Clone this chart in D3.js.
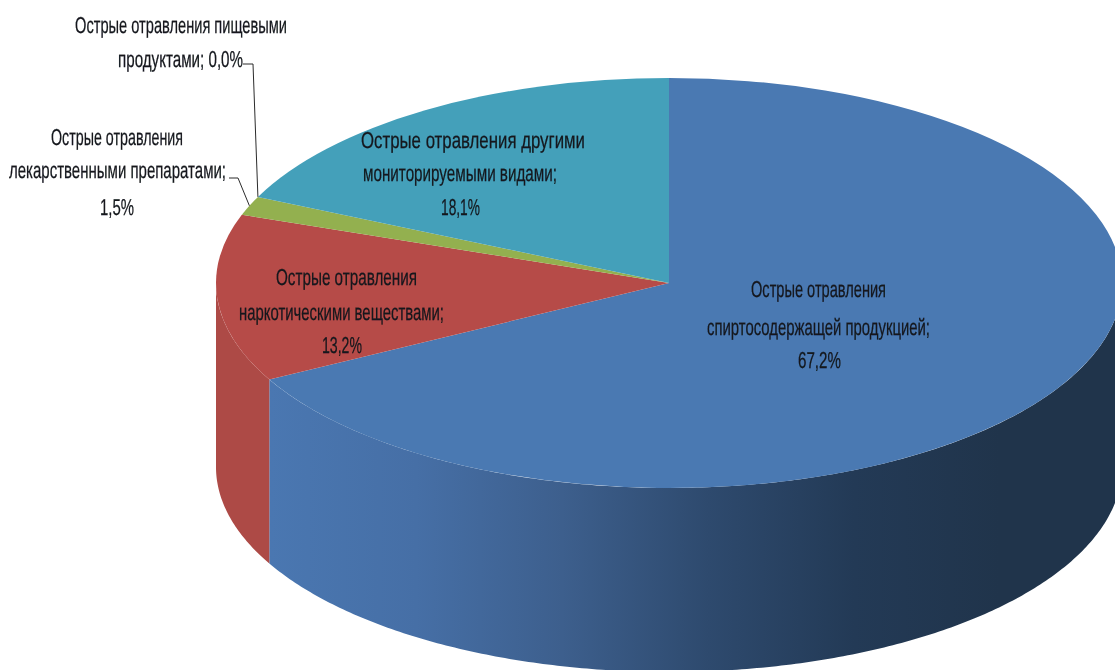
<!DOCTYPE html>
<html><head><meta charset="utf-8">
<style>html,body{margin:0;padding:0;background:#fff;overflow:hidden}svg{display:block}text{font-family:"Liberation Sans Narrow","Liberation Sans",sans-serif;fill:#14161c;stroke:#14161c;stroke-width:0.25;text-rendering:geometricPrecision}</style>
<script src="https://cdn.jsdelivr.net/npm/d3@7"></script>
</head><body>
<svg id="c" width="1115" height="670"></svg>
<script>
const categories = ["Острые отравления спиртосодержащей продукцией","Острые отравления наркотическими веществами","Острые отравления лекарственными препаратами","Острые отравления пищевыми продуктами","Острые отравления другими мониторируемыми видами"];
const values = [67.2, 13.2, 1.5, 0.0, 18.1];
const topColors = ["#4a79b2","#b64b48","#93b04f","#7f63a1","#44a0ba"];
const sideColors = ["url(#blueSide)","#ad4a46","#7f9a42","#6c5488","#3a8aa0"];
const labelLines = [
  ["Острые отравления","спиртосодержащей продукцией;","67,2%"],
  ["Острые отравления","наркотическими веществами;","13,2%"],
  ["Острые отравления","лекарственными препаратами;","1,5%"],
  ["Острые отравления пищевыми","продуктами; 0,0%"],
  ["Острые отравления другими","мониторируемыми видами;","18,1%"]
];
// layout of each label line: left x, baseline y, width
const labelBoxes = [
  [[751,297,135],[707,335,223],[798,368,43]],
  [[276,285,141],[239,320,205],[322,353,40]],
  [[51,145,132],[9,178,217],[100,215,34]],
  [[75,33,212],[118,67,125]],
  [[361,148,224],[363,181,194],[441,215,39]]
];
const cx=669, cy=283, rx=453, ry=205, depth=184;

const svg=d3.select("#c");
const defs=svg.append("defs");
const g=defs.append("linearGradient").attr("id","blueSide").attr("gradientUnits","userSpaceOnUse")
  .attr("x1",270).attr("x2",1000).attr("y1",0).attr("y2",0);
[[0,"#4a77b1"],[0.2,"#466fa6"],[0.4,"#3d5f8d"],[0.6,"#2e4a6e"],[0.8,"#233a56"],[1,"#20344b"]]
  .forEach(([o,c])=>g.append("stop").attr("offset",o).attr("stop-color",c));
defs.append("filter").attr("id","soft").append("feGaussianBlur").attr("stdDeviation",0.5);

const pie=d3.pie().sort(null).value(d=>d)(values);
const px=a=>cx+rx*Math.sin(a), py=a=>cy-ry*Math.cos(a);

// side walls: only the front half of the rim is visible
const area=d3.area().x(px).y0(py).y1(a=>py(a)+depth);
const sides=svg.append("g");
pie.forEach((p,i)=>{
  const a0=Math.max(p.startAngle,Math.PI/2), a1=Math.min(p.endAngle,Math.PI*1.5);
  if(a1<=a0) return;
  const n=Math.ceil((a1-a0)*90);
  const as=d3.range(n+1).map(k=>a0+(a1-a0)*k/n);
  sides.append("path").attr("d",area(as)).attr("fill",sideColors[i]);
});

// top face
const arc=d3.arc().innerRadius(0).outerRadius(rx);
svg.append("g").attr("transform",`translate(${cx},${cy}) scale(1,${ry/rx})`)
  .selectAll("path").data(pie).join("path")
  .attr("d",arc).attr("fill",(d,i)=>topColors[i]);

// leader lines
const leaders=[[2,[[229,178],[238,178]]],[3,[[243,64],[253,64]]]];
const line=d3.line();
leaders.forEach(([i,pts])=>{
  const a=(pie[i].startAngle+pie[i].endAngle)/2;
  svg.append("path").attr("d",line([...pts,[px(a),py(a)]]))
    .attr("fill","none").attr("stroke","#2b2b2b").attr("stroke-width",1);
});

// labels
const tg=svg.append("g").attr("filter","url(#soft)");
labelLines.forEach((lines,i)=>lines.forEach((t,j)=>{
  const [x,y,w]=labelBoxes[i][j];
  tg.append("text").attr("x",x).attr("y",y).attr("font-size",23)
    .attr("textLength",w).attr("lengthAdjust","spacingAndGlyphs").text(t);
}));
</script>
</body></html>
